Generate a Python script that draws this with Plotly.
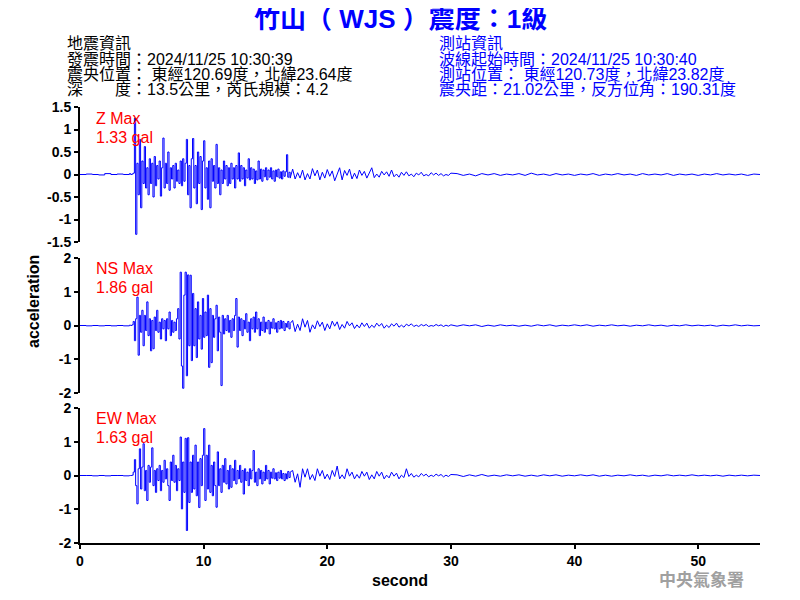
import numpy as np
import plotly.graph_objects as go
from plotly.subplots import make_subplots

# ---------------- data ----------------
# time grid: pre-event (dt 0.5 s from 0), main (dt 0.1 s from 4.1 s),
# coda (dt 0.2 s after main), tail (dt 0.5 s after coda)
pre_t0, pre_dt = 0.0, 0.5
main_t0, main_dt = 4.1, 0.1
coda_dt = 0.2
tail_dt = 0.5

# ---- Z component (gal)
z_pre = [0.0, 0.01, 0.0, -0.01, 0.02, 0.0, 0.01, 0.0, 0.02]
z_main = [
    0.0, 0.01, 0.03, 1.25, -1.33, 0.25, -0.45, 0.78, -0.74, 0.3,
    -0.2, 0.62, -0.3, 0.15, -0.45, 0.35, -0.2, 0.25, -0.5, 0.4,
    -0.25, 0.2, -0.1, 0.3, -0.48, 0.15, 0.81, -0.3, 0.25, -0.2,
    0.5, -0.35, 0.15, -0.1, 0.2, -0.3, 0.25, -0.15, 0.1, -0.2,
    0.3, -0.25, 0.35, -0.15, 0.25, 0.78, -0.45, 0.2, -0.74, 0.35,
    0.8, -0.3, 0.2, -0.65, 0.5, -0.2, 0.4, -0.78, 0.3, 0.75,
    -0.3, 0.15, -0.55, 0.3, -0.74, 0.35, -0.15, 0.2, -0.3, 0.67,
    -0.2, 0.15, -0.45, 0.1, -0.2, 0.3, -0.1, 0.2, -0.25, 0.15,
    -0.2, 0.25, -0.1, 0.15, -0.3, 0.2, -0.1, 0.48, -0.15, 0.2,
    -0.1, 0.15, -0.25, 0.1, -0.08, 0.35, -0.12, 0.15, -0.1, 0.12,
    -0.2, 0.08, -0.12, 0.3, -0.1, 0.12, -0.15, 0.1, -0.05, 0.15,
    -0.12, 0.1, -0.06, 0.15, -0.1, 0.08, -0.15, 0.1, -0.05, 0.12,
    -0.08, 0.06, -0.1, 0.08, -0.04, 0.06, 0.44, -0.06, 0.05, -0.08,
]
z_coda = [
    0.12, -0.1, 0.04, -0.08, 0.1,
    -0.12, 0.02, -0.1, 0.13, -0.03,
    0.1, -0.12, 0.05, -0.08, 0.11,
    -0.04, 0.08, -0.14, 0.03, 0.15,
    -0.12, 0.09, -0.02, 0.12, -0.1,
    0.03, -0.09, 0.1, -0.02, 0.07,
    -0.08, 0.02, 0.15, -0.07, 0.01,
    -0.06, 0.07, -0.01, 0.06, -0.04,
    0.1, -0.05, 0.01, -0.06, 0.05,
    -0.02, 0.06, -0.03, 0.01, -0.05,
    0.03, -0.01, 0.05, -0.03, 0.0,
    -0.03, 0.04, -0.01, 0.03, -0.02,
    0.02, -0.03, 0.0, -0.02, 0.03,
]
z_tail = [
    0.02, -0.02, 0.01, -0.03, 0.02, -0.01, 0.02, -0.02, 0.01, -0.01,
    0.02, -0.02, 0.03, -0.01, 0.01, -0.02, 0.02, -0.01, 0.01, -0.02,
    0.01, -0.01, 0.02, -0.02, 0.01, -0.01, 0.02, -0.01, 0.01, -0.02,
    0.02, -0.01, 0.01, -0.01, 0.02, -0.02, 0.01, -0.01, 0.01, -0.02,
    0.01, -0.01, 0.02, -0.01, 0.01, -0.01, 0.01, -0.02, 0.01, 0.0,
]

# ---- NS component (gal)
ns_pre = [0.0, -0.01, 0.0, -0.01, 0.0, -0.01, 0.0, -0.01, 0.01]
ns_main = [
    0.0, 0.02, 0.12, -0.45, 0.2, 0.84, -0.88, 0.3, -0.2, 0.45,
    -0.6, 0.3, -0.15, 0.7, -0.3, 0.2, -0.75, 0.15, -0.69, 0.25,
    -0.15, 0.45, -0.2, 0.1, -0.4, 0.2, -0.1, 0.15, -0.45, 0.2,
    -0.1, 0.4, -0.3, 0.15, -0.2, 0.1, -0.15, 0.2, 0.5, -0.4,
    1.58, -1.2, -1.86, 0.9, 1.58, -1.49, 1.5, -0.6, 1.49, -1.04,
    0.95, -0.6, 0.5, -0.95, 0.7, -0.4, 0.3, -0.7, 0.8, -0.35,
    0.4, -0.3, 0.9, -1.24, 0.5, -1.1, 0.3, -0.35, 0.2, 0.6,
    -0.75, 0.25, -0.2, -1.78, 0.3, -0.25, 0.2, -0.15, 0.3, -0.2,
    0.15, -0.35, 0.2, -0.15, 0.3, 0.8, -0.64, 0.25, -0.15, 0.2,
    -0.3, 0.15, -0.1, 0.35, -0.2, 0.1, -0.45, 0.2, -0.1, 0.25,
    -0.2, 0.4, -0.1, 0.2, -0.3, 0.1, -0.15, 0.25, -0.2, 0.1,
    -0.1, 0.15, -0.25, 0.1, -0.08, 0.2, -0.1, 0.08, -0.2, 0.12,
    -0.1, 0.15, -0.08, 0.12, -0.15, 0.06, -0.05, 0.12, -0.1, 0.06,
]
ns_coda = [
    0.15, -0.18, 0.04, -0.15, 0.2,
    -0.05, 0.15, -0.2, 0.02, -0.1,
    0.14, -0.03, 0.1, -0.15, 0.05,
    -0.1, 0.13, -0.02, 0.11, -0.12,
    0.03, -0.08, 0.12, -0.01, 0.08,
    -0.09, 0.02, -0.07, 0.08, -0.03,
    0.07, -0.08, 0.01, -0.06, 0.07,
    -0.02, 0.06, -0.08, 0.01, -0.06,
    0.05, -0.02, 0.07, -0.05, 0.01,
    -0.05, 0.04, -0.01, 0.05, -0.03,
    0.01, -0.03, 0.03, -0.01, 0.03,
    -0.03, 0.0, -0.02, 0.03, -0.01,
    0.02, -0.03, 0.01, -0.02, 0.02,
]
ns_tail = [
    -0.02, 0.02, -0.01, 0.02, -0.03, 0.01, -0.02, 0.02, -0.01, 0.01,
    -0.02, 0.01, -0.02, 0.02, -0.01, 0.02, -0.02, 0.01, -0.01, 0.02,
    -0.01, 0.02, -0.02, 0.01, -0.01, 0.02, -0.01, 0.01, -0.02, 0.01,
    -0.01, 0.02, -0.01, 0.01, -0.02, 0.01, -0.01, 0.02, -0.01, 0.01,
    -0.01, 0.01, -0.02, 0.01, -0.01, 0.02, -0.01, 0.01, -0.01, 0.0,
]

# ---- EW component (gal)
ew_pre = [0.0, 0.0, -0.01, 0.0, -0.01, 0.0, 0.0, -0.01, 0.0]
ew_main = [
    0.0, 0.01, 0.1, 0.47, -0.3, -0.84, 0.2, 0.79, -0.4, 0.25,
    0.94, -0.45, 0.15, -0.74, 0.3, -0.2, 0.25, 0.82, -0.3, 0.15,
    -0.5, 0.2, -0.15, 0.3, -0.45, 0.15, -0.2, 0.45, -0.1, 0.2,
    -0.3, -0.74, 0.4, -0.15, 0.6, -0.2, 0.3, -0.45, 0.2, -0.15,
    1.14, -0.99, 0.4, -0.5, 1.1, -1.63, 1.12, -0.8, 0.4, -0.5,
    0.6, -0.4, 0.9, -0.6, 0.4, -0.95, 0.5, -0.3, 0.6, 1.39,
    -0.74, 0.6, -0.4, 0.9, -0.5, 0.3, -0.6, 0.4, -0.3, -0.94,
    0.7, -0.3, 0.2, -0.5, 0.3, -0.2, 0.5, -0.25, 0.15, -0.4,
    0.3, -0.35, 0.2, -0.15, 0.45, -0.25, 0.15, -0.1, 0.3, -0.2,
    0.15, -0.55, 0.2, -0.15, 0.1, -0.3, 0.2, -0.1, 0.15, 0.74,
    -0.2, 0.1, -0.3, 0.2, -0.1, 0.15, -0.25, 0.1, -0.15, 0.3,
    -0.1, 0.15, -0.25, 0.1, -0.08, 0.2, -0.1, 0.08, -0.15, 0.1,
    -0.08, 0.15, -0.1, 0.06, -0.15, 0.05, -0.1, 0.12, -0.06, 0.1,
]
ew_coda = [
    0.15, -0.2, 0.05, -0.35, 0.2,
    -0.05, 0.2, -0.12, 0.03, -0.15,
    0.2, -0.02, 0.15, -0.1, 0.04,
    -0.12, 0.15, -0.03, 0.28, -0.1,
    0.02, -0.1, 0.2, -0.02, 0.1,
    -0.1, 0.03, -0.08, 0.12, -0.02,
    0.1, -0.12, 0.02, -0.1, 0.12,
    -0.02, 0.1, -0.1, 0.01, -0.07,
    0.1, -0.02, 0.07, -0.1, 0.01,
    -0.06, 0.2, -0.03, 0.06, -0.05,
    0.01, -0.04, 0.06, -0.01, 0.04,
    -0.04, 0.01, -0.03, 0.04, -0.01,
    0.03, -0.04, 0.01, -0.03, 0.03,
]
ew_tail = [
    0.02, -0.03, 0.02, -0.02, 0.03, -0.02, 0.01, -0.02, 0.02, -0.01,
    0.02, -0.02, 0.01, -0.02, 0.02, -0.01, 0.02, -0.02, 0.01, -0.01,
    0.02, -0.01, 0.02, -0.02, 0.01, -0.02, 0.01, -0.01, 0.02, -0.01,
    0.01, -0.02, 0.01, -0.01, 0.02, -0.01, 0.01, -0.01, 0.02, -0.01,
    0.01, -0.01, 0.01, -0.02, 0.01, -0.01, 0.01, -0.01, 0.01, 0.0,
]

components = ["Z", "NS", "EW"]
max_labels = ["1.33 gal", "1.86 gal", "1.63 gal"]
y_ranges = [(-1.5, 1.5), (-2, 2), (-2, 2)]
y_ticks = [[-1.5, -1, -0.5, 0, 0.5, 1, 1.5], [-2, -1, 0, 1, 2], [-2, -1, 0, 1, 2]]
y_ticktext = [["-1.5", "-1", "-0.5", "0", "0.5", "1", "1.5"],
              ["-2", "-1", "0", "1", "2"], ["-2", "-1", "0", "1", "2"]]
x_ticks = [0, 10, 20, 30, 40, 50]

title_text = "竹山（ WJS ）震度：1級"
left_info = ["地震資訊", "發震時間：2024/11/25 10:30:39",
             "震央位置： 東經120.69度，北緯23.64度", "深　　度：13.5公里，芮氏規模：4.2"]
right_info = ["測站資訊", "波線起始時間：2024/11/25 10:30:40",
              "測站位置： 東經120.73度，北緯23.82度", "震央距：21.02公里，反方位角：190.31度"]


def build(pre, main, coda, tail):
    t_pre = pre_t0 + pre_dt * np.arange(len(pre))
    t_main = main_t0 + main_dt * np.arange(len(main))
    t_coda = t_main[-1] + coda_dt * (1 + np.arange(len(coda)))
    t_tail = t_coda[-1] + tail_dt * (1 + np.arange(len(tail)))
    early = (np.concatenate([t_pre, t_main]), np.array(pre + main))
    late = (np.concatenate([[t_main[-1]], t_coda, t_tail]), np.array([main[-1]] + coda + tail))
    return early, late


series = [build(z_pre, z_main, z_coda, z_tail),
          build(ns_pre, ns_main, ns_coda, ns_tail),
          build(ew_pre, ew_main, ew_coda, ew_tail)]

# ---------------- figure ----------------
FONT = "Liberation Sans, Arial, Noto Sans CJK TC, sans-serif"
OFF = 8  # page body margin of the browser
W, H = 800, 600
# plot area in page pixels: x 80..760, y 107..543
PX0, PX1, PY0, PY1 = 80, 760, 107, 543
L, T = PX0 - OFF, PY0 - OFF
R, B = W - (PX1 - OFF), H - (PY1 - OFF)
PW, PH = PX1 - PX0, PY1 - PY0


def px(x):
    return (x - PX0) / PW


def py(y):
    return (PY1 - y) / PH


fig = make_subplots(rows=3, cols=1)
for i, (early, late) in enumerate(series):
    fig.add_trace(go.Scatter(x=early[0], y=early[1], mode="lines",
                             line=dict(color="#0000FF", width=1, shape="hv"),
                             hoverinfo="skip", showlegend=False), row=i + 1, col=1)
    fig.add_trace(go.Scatter(x=late[0], y=late[1], mode="lines",
                             line=dict(color="#0000FF", width=1),
                             hoverinfo="skip", showlegend=False), row=i + 1, col=1)

domains = [(py(242), py(107)), (py(393), py(258)), (py(543), py(408))]
for i in range(3):
    n = "" if i == 0 else str(i + 1)
    fig.layout["yaxis" + n].update(
        domain=list(domains[i]), range=list(y_ranges[i]),
        tickvals=y_ticks[i], ticktext=y_ticktext[i],
        showline=True, linecolor="black", linewidth=2,
        ticks="outside", ticklen=4, tickwidth=2, tickcolor="black",
        tickfont=dict(family=FONT, size=14, color="black", weight="bold"),
        showgrid=False, zeroline=False, fixedrange=True)
    xa = dict(range=[0, 55], showgrid=False, zeroline=False, fixedrange=True)
    if i < 2:
        xa.update(visible=False)
    else:
        xa.update(tickvals=x_ticks, ticktext=[str(v) for v in x_ticks],
                  showline=True, linecolor="black", linewidth=2,
                  ticks="outside", ticklen=4, tickwidth=2, tickcolor="black",
                  tickfont=dict(family=FONT, size=14, color="black", weight="bold"))
    fig.layout["xaxis" + n].update(**xa)

ann = []
ann.append(dict(text=title_text, x=px(400), y=py(19), xanchor="center", yanchor="middle",
                font=dict(family=FONT, size=26, color="#0000FF", weight="bold")))
line_y = [44, 59.5, 74.5, 89.5]
for k in range(4):
    ann.append(dict(text=left_info[k], x=px(65), y=py(line_y[k]), xanchor="left", yanchor="middle",
                    font=dict(family=FONT, size=16, color="black")))
    ann.append(dict(text=right_info[k], x=px(437), y=py(line_y[k]), xanchor="left", yanchor="middle",
                    font=dict(family=FONT, size=16, color="#0000FF")))
label_y = [(118, 137), (268, 287), (418, 437)]
for i in range(3):
    ann.append(dict(text=components[i] + " Max", x=px(94), y=py(label_y[i][0]), xanchor="left",
                    yanchor="middle", font=dict(family=FONT, size=16, color="#FF0000")))
    ann.append(dict(text=max_labels[i], x=px(94), y=py(label_y[i][1]), xanchor="left",
                    yanchor="middle", font=dict(family=FONT, size=16, color="#FF0000")))
ann.append(dict(text="acceleration", x=px(33), y=py(302), textangle=-90, xanchor="center",
                yanchor="middle", font=dict(family=FONT, size=16, color="black", weight="bold")))
ann.append(dict(text="second", x=px(400), y=py(580), xanchor="center", yanchor="middle",
                font=dict(family=FONT, size=16, color="black", weight="bold")))
ann.append(dict(text="中央氣象署", x=px(701), y=py(580), xanchor="center", yanchor="middle",
                font=dict(family=FONT, size=17, color="#A0A0A0", weight="bold")))
for a in ann:
    a.update(xref="paper", yref="paper", showarrow=False)

fig.update_layout(width=W, height=H, margin=dict(l=L, r=R, t=T, b=B),
                  plot_bgcolor="white", paper_bgcolor="white",
                  annotations=ann, font=dict(family=FONT))

fig.write_html("out.html")
